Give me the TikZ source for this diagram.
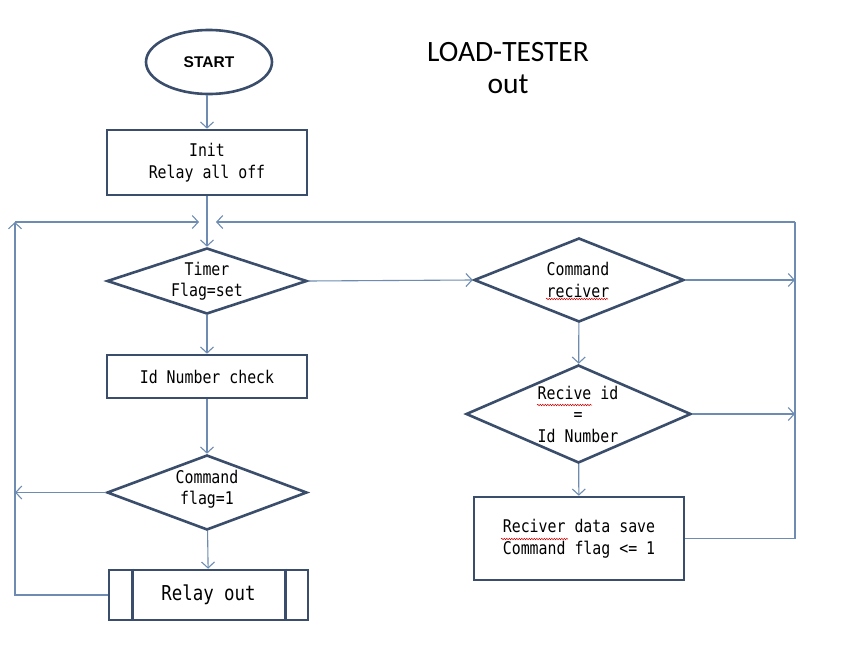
\documentclass[tikz,border=0pt]{standalone}
\usepackage{fontspec}
\setmainfont{Liberation Sans}
\newfontfamily\gothic[FakeStretch=0.85]{DejaVu Sans Mono}
\newfontfamily\titlefont{Carlito}
\usetikzlibrary{shapes.geometric,arrows.meta,decorations.pathmorphing}
\definecolor{shapeblue}{RGB}{58,78,108}
\definecolor{linkblue}{RGB}{110,140,178}
\begin{document}
\begin{tikzpicture}[x=1pt,y=-1pt,
  box/.style={draw=shapeblue, line width=2.6pt, fill=white, inner sep=0pt},
  rbox/.style={box, rectangle},
  dbox/.style={box, diamond},
  lbl/.style={font=\gothic\fontsize{17.5}{21.5}\selectfont, align=center, inner sep=0pt},
  link/.style={draw=linkblue, line width=1.1pt},
  arrow/.style={link, -{Straight Barb[length=6pt,width=13pt]}},
  spell/.style={draw=red!80!black, line width=0.5pt, decorate, decoration={snake, amplitude=0.7pt, segment length=2.5pt}}
]
\useasboundingbox[fill=white] (0,0) rectangle (844,653);

% title
\node[font=\titlefont\fontsize{29.5}{32}\selectfont, align=center] (title) at (508,68) {LOAD-TESTER\\out};

% shapes
\node[box, ellipse, minimum width=126pt, minimum height=64pt, font=\bfseries\fontsize{15.5}{17}\selectfont] (start) at (209,62) {START};
\node[rbox, minimum width=200pt, minimum height=65pt] (init) at (207,162.5) {};
\node[lbl] at (init) {Init\\Relay all off};
\node[dbox, minimum width=200pt, minimum height=66pt] (timer) at (207,281) {};
\node[lbl] at (timer) {Timer\\Flag=set};
\node[rbox, minimum width=200pt, minimum height=43pt] (idchk) at (207,376.5) {};
\node[lbl] at (idchk) {Id Number check};
\node[dbox, minimum width=200pt, minimum height=75pt] (cflag) at (207,492.5) {};
\node[lbl] at (207,489) {Command\\flag=1};
\node[rbox, minimum width=199pt, minimum height=50pt] (relay) at (208.5,595) {};
\node[lbl, font=\gothic\fontsize{20.5}{24}\selectfont] at (relay) {Relay out};
\draw[draw=shapeblue, line width=2.6pt] ([xshift=25pt]relay.north west) -- ([xshift=25pt]relay.south west);
\draw[draw=shapeblue, line width=2.6pt] ([xshift=-24pt]relay.north east) -- ([xshift=-24pt]relay.south east);

\node[dbox, minimum width=210pt, minimum height=84pt] (crecv) at (579,280) {};
\node[lbl] at (578,280) {Command\\reciver};
\node[dbox, minimum width=225pt, minimum height=98pt] (rid) at (578.5,414) {};
\node[lbl] at (578,414) {Recive id\\=\\Id Number};
\node[rbox, minimum width=210pt, minimum height=83pt] (save) at (579,538.5) {};
\node[lbl] at (579,538.5) {Reciver data save\\Command flag <= 1};

% spell marks
\draw[spell] (546,299) -- (608,299);
\draw[spell] (537,405) -- (592,405);
\draw[spell] (501,539) -- (568,539);

% junction coordinates
\coordinate (tl) at (15,222);
\coordinate (tr) at (795,222);
\coordinate (jl) at (199,222);
\coordinate (jr) at (216,222);

% connectors
\draw[arrow] (start.south -| init.north) -- (init.north);
\draw[arrow] (init) -- (timer);
\draw[arrow] (timer) -- (idchk);
\draw[arrow] (idchk) -- (cflag);
\draw[arrow] (cflag) -- (relay);
\draw[arrow] (cflag.west) -- (cflag.west -| tl);
\draw[arrow] (relay.west) -- (relay.west -| tl) -- (tl);
\draw[arrow] (tl) -- (jl);
\draw[arrow] (timer.east) -- (crecv.west);
\draw[arrow] (crecv.east) -- (crecv.east -| tr);
\draw[arrow] (crecv) -- (rid);
\draw[arrow] (rid.east) -- (rid.east -| tr);
\draw[arrow] (rid) -- (save);
\draw[link] (save.east) -- (save.east -| tr) -- (tr);
\draw[arrow] (tr) -- (jr);
\end{tikzpicture}
\end{document}
